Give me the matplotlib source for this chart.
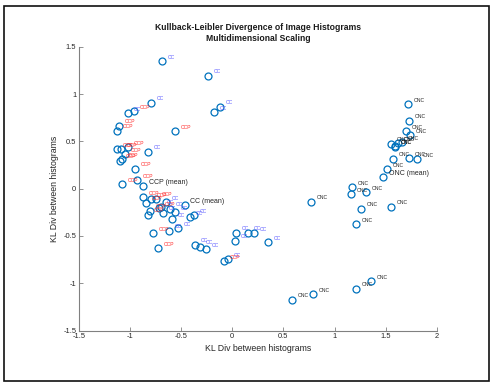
import numpy as np
import matplotlib
matplotlib.use('Agg')
from matplotlib import pyplot as plt
from matplotlib.patches import Rectangle
from matplotlib.ticker import FormatStrFormatter

plt.rcParams['font.family'] = ['Liberation Sans', 'DejaVu Sans']
plt.rcParams['axes.unicode_minus'] = False

# coordenadas MDS
cc_x = [-0.691, -0.235, -0.799, -0.120, -0.182, -1.018, -0.825, -0.652, -0.610,
        -0.561, -0.587, -0.411, -0.372, -0.534, -0.622, -0.362, -0.316, -0.254,
        -0.039, 0.033, 0.023, 0.151, 0.212, 0.349, -0.681, -0.700]
cc_y = [1.349, 1.193, 0.908, 0.866, 0.807, 0.800, 0.391, -0.140, -0.211,
        -0.249, -0.320, -0.302, -0.281, -0.418, -0.443, -0.591, -0.612, -0.640,
        -0.746, -0.465, -0.549, -0.465, -0.471, -0.563, -0.253, -0.190]
cc_mean = (-0.466, -0.172)

ccp_x = [-0.962, -1.106, -1.125, -0.564, -1.125, -1.092, -1.020, -1.047, -1.079,
         -1.095, -0.955, -1.079, -0.932, -0.877, -0.844, -0.798, -0.747, -0.805,
         -0.825, -0.714, -0.779, -0.727, -0.078]
ccp_y = [0.821, 0.665, 0.612, 0.606, 0.416, 0.419, 0.437, 0.366, 0.314,
         0.296, 0.211, 0.050, 0.089, -0.091, -0.148, -0.112, -0.106, -0.232,
         -0.275, -0.204, -0.468, -0.630, -0.767]
ccp_mean = (-0.871, 0.025)

onc_x = [1.723, 1.729, 1.700, 1.736, 1.556, 1.589, 1.595, 1.621, 1.658, 1.575,
         1.729, 1.804, 1.511, 1.174, 1.161, 1.308, 0.770, 1.259, 1.556, 1.210,
         1.357, 1.207, 0.793, 0.581]
onc_y = [0.894, 0.718, 0.606, 0.567, 0.475, 0.444, 0.450, 0.483, 0.493, 0.317,
         0.321, 0.310, 0.205, 0.015, -0.059, -0.035, -0.137, -0.211, -0.190, -0.376,
         -0.975, -1.056, -1.112, -1.175]
onc_mean = (1.478, 0.120)

cor = (0, 0.447, 0.741)
dx, dy = 0.055, 0.04

fig = plt.figure(figsize=(4.92, 3.83), dpi=100)
ax = fig.add_axes([0.1606, 0.137, 0.727, 0.741])

grupos = [(cc_x, cc_y, cc_mean, 'CC', '#5a5aff'),
          (ccp_x, ccp_y, ccp_mean, 'CCP', '#ff2a2a'),
          (onc_x, onc_y, onc_mean, 'ONC', '#202020')]

for gx, gy, gm, nome, tcor in grupos:
    ax.plot(gx, gy, 'o', mfc='none', mec=cor, ms=5, mew=0.9)
    for xi, yi in zip(gx, gy):
        ax.text(xi + dx, yi + dy, nome, color=tcor, fontsize=3.6,
                va='center', ha='left')
    ax.plot(gm[0], gm[1], 'o', mfc='none', mec=cor, ms=5, mew=0.9)
    ax.text(gm[0] + dx, gm[1] + dy, nome + ' (mean)', color='#262626',
            fontsize=5, va='center', ha='left')

ax.set_xlim(-1.5, 2)
ax.set_ylim(-1.5, 1.5)
ax.set_xticks(np.arange(-1.5, 2.01, 0.5))
ax.set_yticks(np.arange(-1.5, 1.51, 0.5))
ax.xaxis.set_major_formatter(FormatStrFormatter('%g'))
ax.yaxis.set_major_formatter(FormatStrFormatter('%g'))
for s in ['top', 'right']:
    ax.spines[s].set_visible(False)
for s in ['left', 'bottom']:
    ax.spines[s].set_color('#808080')
    ax.spines[s].set_linewidth(0.8)
ax.tick_params(direction='in', length=3, width=0.6, colors='#808080',
               labelcolor='#262626', labelsize=5.4, pad=2)

ax.set_xlabel('KL Div between histograms', fontsize=6.3, color='#262626', labelpad=3)
ax.set_ylabel('KL Div between histograms', fontsize=6.3, color='#262626', labelpad=3)
ax.set_title('Kullback-Leibler Divergence of Image Histograms\nMultidimensional Scaling',
             fontsize=6.2, fontweight='bold', color='#1a1a1a', pad=4, linespacing=1.35)

# moldura da janela
fig.patches.append(Rectangle((0.008, 0.005), 0.986, 0.98, transform=fig.transFigure,
                             fill=False, ec='#101010', lw=1.2))

fig.savefig('out.png', dpi=100)
